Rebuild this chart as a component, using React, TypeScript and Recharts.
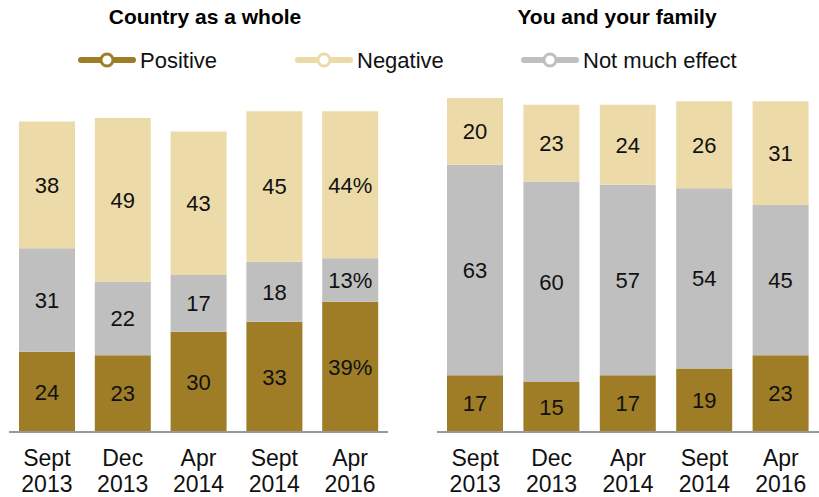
import React from "react";
import { BarChart, Bar, XAxis, YAxis, LabelList } from "recharts";

// Survey waves
const waves = ["Sept 2013", "Dec 2013", "Apr 2014", "Sept 2014", "Apr 2016"];

// Country as a whole
const countryPositive = [24, 23, 30, 33, 39];
const countryNotMuch = [31, 22, 17, 18, 13];
const countryNegative = [38, 49, 43, 45, 44];

// You and your family
const familyPositive = [17, 15, 17, 19, 23];
const familyNotMuch = [63, 60, 57, 54, 45];
const familyNegative = [20, 23, 24, 26, 31];

const POS = "#9e7d26";
const NEG = "#ecdba8";
const GRAY = "#bfbfbf";
const FONT = "'Liberation Sans', Arial, sans-serif";

// last wave gets a % sign on its labels (left panel only)
const withPct = (v: number, i: number, pct: boolean) =>
  pct && i === waves.length - 1 ? `${v}%` : `${v}`;

const buildRows = (pos: number[], mid: number[], neg: number[], pct: boolean) =>
  waves.map((w, i) => ({
    wave: w,
    pos: pos[i],
    mid: mid[i],
    neg: neg[i],
    posLabel: withPct(pos[i], i, pct),
    midLabel: withPct(mid[i], i, pct),
    negLabel: withPct(neg[i], i, pct),
  }));

const countryRows = buildRows(countryPositive, countryNotMuch, countryNegative, true);
const familyRows = buildRows(familyPositive, familyNotMuch, familyNegative, false);

const WaveTick = (props: any) => {
  const { x, y, payload } = props;
  const [month, year] = String(payload.value).split(" ");
  return (
    <text x={x} y={y} textAnchor="middle" fontSize={23} fill="#111" fontFamily={FONT}>
      <tspan x={x} dy={26}>{month}</tspan>
      <tspan x={x} dy={26}>{year}</tspan>
    </text>
  );
};

const labelStyle = { fontSize: 22, fill: "#111", fontFamily: FONT };

const Panel = ({ rows, width }: { rows: any[]; width: number }) => (
  <BarChart
    width={width}
    height={497}
    data={rows}
    margin={{ top: 98, right: 9, left: 9, bottom: 0 }}
    barSize={56}
    style={{ overflow: "visible" }}
  >
    <XAxis
      dataKey="wave"
      height={65}
      tickLine={false}
      tick={<WaveTick />}
      axisLine={{ stroke: "#9a9a9a", strokeWidth: 2 }}
      interval={0}
    />
    <YAxis hide domain={[0, 100]} />
    <Bar dataKey="pos" stackId="s" fill={POS} isAnimationActive={false}>
      <LabelList dataKey="posLabel" position="center" style={labelStyle} />
    </Bar>
    <Bar dataKey="mid" stackId="s" fill={GRAY} isAnimationActive={false}>
      <LabelList dataKey="midLabel" position="center" style={labelStyle} />
    </Bar>
    <Bar dataKey="neg" stackId="s" fill={NEG} isAnimationActive={false}>
      <LabelList dataKey="negLabel" position="center" style={labelStyle} />
    </Bar>
  </BarChart>
);

const LegendKey = ({ color, label, x }: { color: string; label: string; x: number }) => (
  <g>
    <line x1={x + 3} y1={60} x2={x + 55} y2={60} stroke={color} strokeWidth={6} strokeLinecap="round" />
    <circle cx={x + 29} cy={60} r={6} fill="#fff" stroke={color} strokeWidth={3} />
    <text x={x + 62} y={68} fontSize={22} fill="#111" fontFamily={FONT}>{label}</text>
  </g>
);

export default function App() {
  return (
    <div style={{ position: "absolute", left: 0, top: 0, width: 819, height: 497, background: "#fff", fontFamily: FONT, overflow: "hidden" }}>
      <div style={{ position: "absolute", left: 0, top: 0 }}>
        <Panel rows={countryRows} width={397} />
      </div>
      <div style={{ position: "absolute", left: 428, top: 0 }}>
        <Panel rows={familyRows} width={400} />
      </div>
      <svg width={819} height={90} style={{ position: "absolute", left: 0, top: 0 }}>
        <text x={205} y={24} textAnchor="middle" fontSize={21} fontWeight="bold" fill="#000" fontFamily={FONT}>
          Country as a whole
        </text>
        <text x={617} y={24} textAnchor="middle" fontSize={21} fontWeight="bold" fill="#000" fontFamily={FONT}>
          You and your family
        </text>
        <LegendKey color={POS} label="Positive" x={78} />
        <LegendKey color={NEG} label="Negative" x={295} />
        <LegendKey color={GRAY} label="Not much effect" x={521} />
      </svg>
    </div>
  );
}
